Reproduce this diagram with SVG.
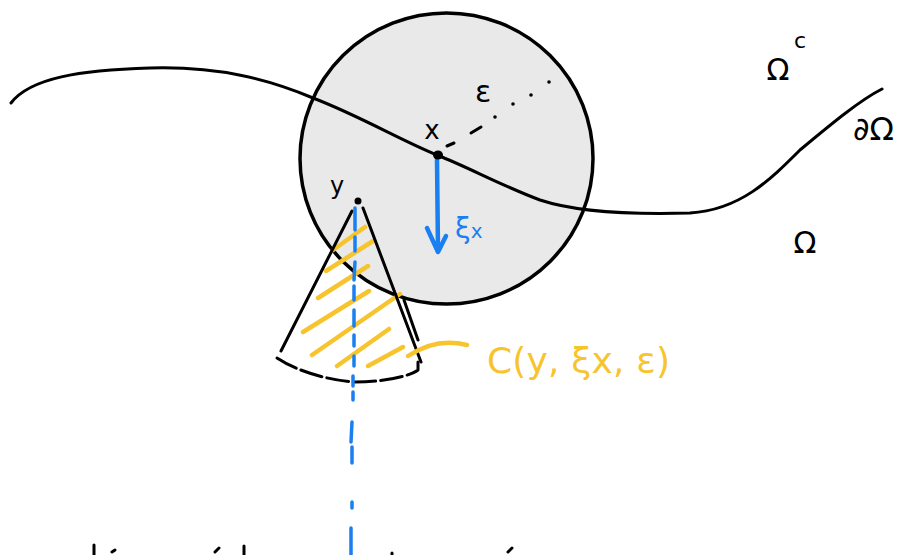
<svg xmlns="http://www.w3.org/2000/svg" width="914" height="555" viewBox="0 0 914 555">
<style>
.ink{fill:none;stroke:#000;stroke-width:3;stroke-linecap:round;stroke-linejoin:round}
.blue{fill:none;stroke:#1a7ff0;stroke-linecap:round;stroke-linejoin:round}
.hatch{fill:none;stroke:#f7c42e;stroke-width:4.5;stroke-linecap:round}
.t{font-family:"DejaVu Sans","Liberation Sans",sans-serif;fill:#000}
.ty{font-family:"DejaVu Sans","Liberation Sans",sans-serif;fill:#f7c42e}
.tb{font-family:"DejaVu Sans","Liberation Sans",sans-serif;fill:#1a7ff0}
</style>
<rect width="914" height="555" fill="#fff"/>
<g id="ball">
<ellipse cx="446.5" cy="158.5" rx="146.5" ry="145.5" fill="#e9e9e9" stroke="#000" stroke-width="3.5"/>
</g>
<g id="boundary">
<path class="ink" d="M11,103 C30,78 80,70 150,68 C220,66 270,80 313,98 C360,116 400,140 437,155 C470,168 500,185 540,200 C570,210 620,215 690,213 C740,210 770,180 800,150 C830,125 860,100 882,89"/>
</g>
<g id="cone">
<path class="hatch" d="M333,250 L365,227 M326,271 L373,241 M318,298 L368,266 M303,332 L369,291 M312,355 L400,294 M337,366 L389,329 M368,366 L403,347"/>
<path class="ink" d="M352,211 L281,351 M363,208 L421,362 M404,300 L418,340"/>
<path class="ink" stroke-dasharray="22 5" d="M277,358 C295,370 325,380 355,382 C385,382 410,376 418,370 L418,362"/>
</g>
<g id="radius">
<path class="ink" d="M447,146 L454,143 M471,133 L481,127"/>
<circle cx="495" cy="117" r="1.8"/>
<circle cx="513" cy="104" r="1.8"/>
<circle cx="531" cy="95" r="1.8"/>
<circle cx="549" cy="82" r="1.8"/>
</g>
<g id="normal">
<path class="blue" stroke-width="4.5" d="M437,160 L438,251 M427,228 L438,252 L446,236"/>
</g>
<g id="axis">
<path class="blue" stroke-width="3.5" d="M355,208 L355,230 M355,237 L355,251 M355,262 L354,280 M354,286 L354,300 M354,310 L354,326 M354,335 L354,346 M354,356 L354,366 M353,376 L353,386 M353,392 L353,400 M352,422 L351,442 M352,447 L352,463 M352,502 L352,508 M351,528 L351,555"/>
</g>
<g id="points">
<ellipse cx="438" cy="155" rx="5" ry="4.5" fill="#000"/>
<circle cx="358" cy="201" r="3.5" fill="#000"/>
</g>
<g id="connectors">
<path class="hatch" d="M408,356 C420,348 440,338 467,345"/>
</g>
<g id="labels">
<text class="t" x="432" y="139" font-size="26" text-anchor="middle">x</text>
<text class="t" x="483" y="102" font-size="30" text-anchor="middle">ε</text>
<text class="t" x="337" y="194" font-size="24" text-anchor="middle">y</text>
<text class="tb" x="455" y="238" font-size="28">ξ<tspan font-size="20">x</tspan></text>
<text class="ty" x="487" y="373" font-size="36" textLength="183" lengthAdjust="spacing">C(y, ξx, ε)</text>
<text class="t" x="778" y="80" font-size="30" text-anchor="middle">Ω</text>
<text class="t" x="800" y="48" font-size="22" text-anchor="middle">c</text>
<text class="t" x="853" y="140" font-size="32">∂Ω</text>
<text class="t" x="805" y="253" font-size="30" text-anchor="middle">Ω</text>
</g>
<g id="fragments">
<path class="ink" d="M94,545 L94,555 M112,552 L115,550 M215,552 L219,548 M244,546 L244,555 M392,553 L392,555 M508,552 L512,548"/>
</g>
</svg>
